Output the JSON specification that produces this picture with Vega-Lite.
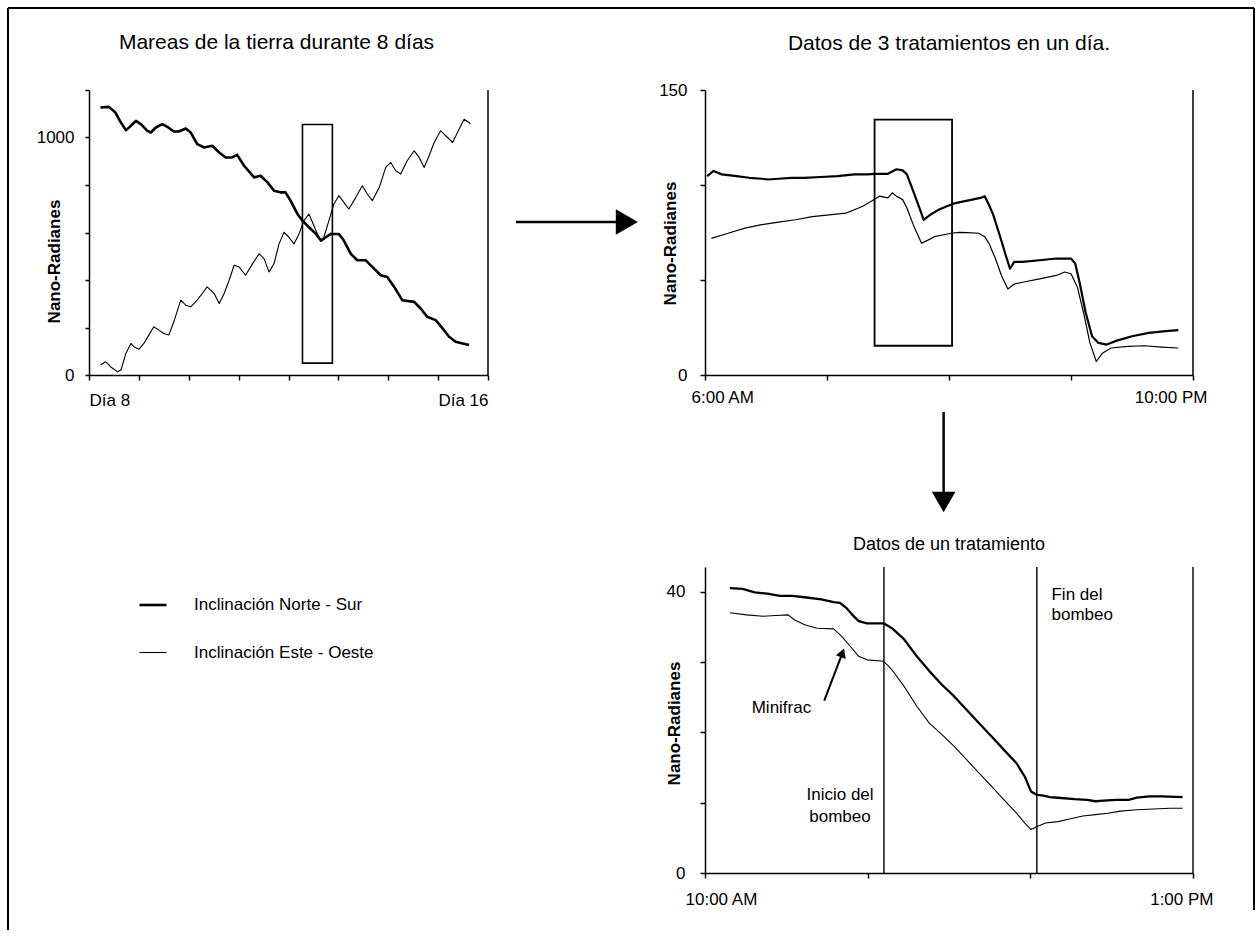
{
  "$schema": "https://vega.github.io/schema/vega-lite/v6.json",
  "background": "white",
  "padding": {"left": 6, "top": 7, "right": 0, "bottom": 0},
  "config": {
    "font": "Liberation Sans",
    "view": {"stroke": null},
    "axis": {"domainColor": "#000", "tickColor": "#000", "labelColor": "#000", "titleColor": "#000", "grid": false, "labelFontSize": 17, "titleFontSize": 17, "titleFontWeight": "bold", "domainWidth": 1.5, "tickWidth": 1.5, "tickSize": 5, "labelPadding": 11},
    "title": {"color": "#000", "fontWeight": "normal", "frame": "group"},
    "text": {"color": "#000"}
  },
  "datasets": {
    "mareas": [
      {"dia": 8.23, "valor": 1126, "serie": "Inclinación Norte - Sur"},
      {"dia": 8.40, "valor": 1129, "serie": "Inclinación Norte - Sur"},
      {"dia": 8.53, "valor": 1105, "serie": "Inclinación Norte - Sur"},
      {"dia": 8.64, "valor": 1063, "serie": "Inclinación Norte - Sur"},
      {"dia": 8.74, "valor": 1031, "serie": "Inclinación Norte - Sur"},
      {"dia": 8.84, "valor": 1049, "serie": "Inclinación Norte - Sur"},
      {"dia": 8.94, "valor": 1070, "serie": "Inclinación Norte - Sur"},
      {"dia": 9.04, "valor": 1056, "serie": "Inclinación Norte - Sur"},
      {"dia": 9.17, "valor": 1028, "serie": "Inclinación Norte - Sur"},
      {"dia": 9.24, "valor": 1021, "serie": "Inclinación Norte - Sur"},
      {"dia": 9.34, "valor": 1042, "serie": "Inclinación Norte - Sur"},
      {"dia": 9.47, "valor": 1056, "serie": "Inclinación Norte - Sur"},
      {"dia": 9.57, "valor": 1045, "serie": "Inclinación Norte - Sur"},
      {"dia": 9.70, "valor": 1025, "serie": "Inclinación Norte - Sur"},
      {"dia": 9.80, "valor": 1025, "serie": "Inclinación Norte - Sur"},
      {"dia": 9.94, "valor": 1038, "serie": "Inclinación Norte - Sur"},
      {"dia": 10.04, "valor": 1021, "serie": "Inclinación Norte - Sur"},
      {"dia": 10.17, "valor": 972, "serie": "Inclinación Norte - Sur"},
      {"dia": 10.31, "valor": 958, "serie": "Inclinación Norte - Sur"},
      {"dia": 10.47, "valor": 965, "serie": "Inclinación Norte - Sur"},
      {"dia": 10.61, "valor": 937, "serie": "Inclinación Norte - Sur"},
      {"dia": 10.74, "valor": 916, "serie": "Inclinación Norte - Sur"},
      {"dia": 10.87, "valor": 916, "serie": "Inclinación Norte - Sur"},
      {"dia": 10.97, "valor": 927, "serie": "Inclinación Norte - Sur"},
      {"dia": 11.11, "valor": 881, "serie": "Inclinación Norte - Sur"},
      {"dia": 11.31, "valor": 832, "serie": "Inclinación Norte - Sur"},
      {"dia": 11.44, "valor": 839, "serie": "Inclinación Norte - Sur"},
      {"dia": 11.58, "valor": 811, "serie": "Inclinación Norte - Sur"},
      {"dia": 11.71, "valor": 776, "serie": "Inclinación Norte - Sur"},
      {"dia": 11.84, "valor": 769, "serie": "Inclinación Norte - Sur"},
      {"dia": 11.94, "valor": 769, "serie": "Inclinación Norte - Sur"},
      {"dia": 12.04, "valor": 734, "serie": "Inclinación Norte - Sur"},
      {"dia": 12.18, "valor": 678, "serie": "Inclinación Norte - Sur"},
      {"dia": 12.28, "valor": 650, "serie": "Inclinación Norte - Sur"},
      {"dia": 12.41, "valor": 622, "serie": "Inclinación Norte - Sur"},
      {"dia": 12.55, "valor": 594, "serie": "Inclinación Norte - Sur"},
      {"dia": 12.65, "valor": 566, "serie": "Inclinación Norte - Sur"},
      {"dia": 12.75, "valor": 580, "serie": "Inclinación Norte - Sur"},
      {"dia": 12.85, "valor": 594, "serie": "Inclinación Norte - Sur"},
      {"dia": 13.01, "valor": 594, "serie": "Inclinación Norte - Sur"},
      {"dia": 13.11, "valor": 566, "serie": "Inclinación Norte - Sur"},
      {"dia": 13.25, "valor": 510, "serie": "Inclinación Norte - Sur"},
      {"dia": 13.38, "valor": 483, "serie": "Inclinación Norte - Sur"},
      {"dia": 13.55, "valor": 483, "serie": "Inclinación Norte - Sur"},
      {"dia": 13.68, "valor": 455, "serie": "Inclinación Norte - Sur"},
      {"dia": 13.85, "valor": 420, "serie": "Inclinación Norte - Sur"},
      {"dia": 13.98, "valor": 413, "serie": "Inclinación Norte - Sur"},
      {"dia": 14.12, "valor": 371, "serie": "Inclinación Norte - Sur"},
      {"dia": 14.28, "valor": 315, "serie": "Inclinación Norte - Sur"},
      {"dia": 14.52, "valor": 308, "serie": "Inclinación Norte - Sur"},
      {"dia": 14.65, "valor": 280, "serie": "Inclinación Norte - Sur"},
      {"dia": 14.78, "valor": 245, "serie": "Inclinación Norte - Sur"},
      {"dia": 14.95, "valor": 231, "serie": "Inclinación Norte - Sur"},
      {"dia": 15.09, "valor": 196, "serie": "Inclinación Norte - Sur"},
      {"dia": 15.22, "valor": 161, "serie": "Inclinación Norte - Sur"},
      {"dia": 15.35, "valor": 140, "serie": "Inclinación Norte - Sur"},
      {"dia": 15.49, "valor": 133, "serie": "Inclinación Norte - Sur"},
      {"dia": 15.62, "valor": 126, "serie": "Inclinación Norte - Sur"},
      {"dia": 8.23, "valor": 42, "serie": "Inclinación Este - Oeste"},
      {"dia": 8.33, "valor": 56, "serie": "Inclinación Este - Oeste"},
      {"dia": 8.43, "valor": 35, "serie": "Inclinación Este - Oeste"},
      {"dia": 8.57, "valor": 14, "serie": "Inclinación Este - Oeste"},
      {"dia": 8.64, "valor": 21, "serie": "Inclinación Este - Oeste"},
      {"dia": 8.74, "valor": 91, "serie": "Inclinación Este - Oeste"},
      {"dia": 8.84, "valor": 133, "serie": "Inclinación Este - Oeste"},
      {"dia": 8.90, "valor": 119, "serie": "Inclinación Este - Oeste"},
      {"dia": 9.00, "valor": 108, "serie": "Inclinación Este - Oeste"},
      {"dia": 9.10, "valor": 133, "serie": "Inclinación Este - Oeste"},
      {"dia": 9.20, "valor": 168, "serie": "Inclinación Este - Oeste"},
      {"dia": 9.30, "valor": 203, "serie": "Inclinación Este - Oeste"},
      {"dia": 9.40, "valor": 189, "serie": "Inclinación Este - Oeste"},
      {"dia": 9.50, "valor": 175, "serie": "Inclinación Este - Oeste"},
      {"dia": 9.60, "valor": 168, "serie": "Inclinación Este - Oeste"},
      {"dia": 9.70, "valor": 224, "serie": "Inclinación Este - Oeste"},
      {"dia": 9.84, "valor": 315, "serie": "Inclinación Este - Oeste"},
      {"dia": 9.94, "valor": 294, "serie": "Inclinación Este - Oeste"},
      {"dia": 10.04, "valor": 287, "serie": "Inclinación Este - Oeste"},
      {"dia": 10.17, "valor": 315, "serie": "Inclinación Este - Oeste"},
      {"dia": 10.27, "valor": 343, "serie": "Inclinación Este - Oeste"},
      {"dia": 10.37, "valor": 371, "serie": "Inclinación Este - Oeste"},
      {"dia": 10.51, "valor": 343, "serie": "Inclinación Este - Oeste"},
      {"dia": 10.61, "valor": 301, "serie": "Inclinación Este - Oeste"},
      {"dia": 10.71, "valor": 343, "serie": "Inclinación Este - Oeste"},
      {"dia": 10.81, "valor": 399, "serie": "Inclinación Este - Oeste"},
      {"dia": 10.91, "valor": 462, "serie": "Inclinación Este - Oeste"},
      {"dia": 11.01, "valor": 455, "serie": "Inclinación Este - Oeste"},
      {"dia": 11.14, "valor": 420, "serie": "Inclinación Este - Oeste"},
      {"dia": 11.28, "valor": 469, "serie": "Inclinación Este - Oeste"},
      {"dia": 11.41, "valor": 510, "serie": "Inclinación Este - Oeste"},
      {"dia": 11.51, "valor": 490, "serie": "Inclinación Este - Oeste"},
      {"dia": 11.61, "valor": 434, "serie": "Inclinación Este - Oeste"},
      {"dia": 11.71, "valor": 469, "serie": "Inclinación Este - Oeste"},
      {"dia": 11.81, "valor": 552, "serie": "Inclinación Este - Oeste"},
      {"dia": 11.91, "valor": 601, "serie": "Inclinación Este - Oeste"},
      {"dia": 12.01, "valor": 580, "serie": "Inclinación Este - Oeste"},
      {"dia": 12.11, "valor": 552, "serie": "Inclinación Este - Oeste"},
      {"dia": 12.21, "valor": 594, "serie": "Inclinación Este - Oeste"},
      {"dia": 12.31, "valor": 650, "serie": "Inclinación Este - Oeste"},
      {"dia": 12.41, "valor": 678, "serie": "Inclinación Este - Oeste"},
      {"dia": 12.48, "valor": 643, "serie": "Inclinación Este - Oeste"},
      {"dia": 12.58, "valor": 594, "serie": "Inclinación Este - Oeste"},
      {"dia": 12.65, "valor": 566, "serie": "Inclinación Este - Oeste"},
      {"dia": 12.71, "valor": 580, "serie": "Inclinación Este - Oeste"},
      {"dia": 12.81, "valor": 650, "serie": "Inclinación Este - Oeste"},
      {"dia": 12.91, "valor": 720, "serie": "Inclinación Este - Oeste"},
      {"dia": 13.01, "valor": 755, "serie": "Inclinación Este - Oeste"},
      {"dia": 13.11, "valor": 727, "serie": "Inclinación Este - Oeste"},
      {"dia": 13.21, "valor": 699, "serie": "Inclinación Este - Oeste"},
      {"dia": 13.35, "valor": 748, "serie": "Inclinación Este - Oeste"},
      {"dia": 13.48, "valor": 797, "serie": "Inclinación Este - Oeste"},
      {"dia": 13.58, "valor": 762, "serie": "Inclinación Este - Oeste"},
      {"dia": 13.68, "valor": 734, "serie": "Inclinación Este - Oeste"},
      {"dia": 13.82, "valor": 790, "serie": "Inclinación Este - Oeste"},
      {"dia": 13.95, "valor": 874, "serie": "Inclinación Este - Oeste"},
      {"dia": 14.05, "valor": 895, "serie": "Inclinación Este - Oeste"},
      {"dia": 14.15, "valor": 860, "serie": "Inclinación Este - Oeste"},
      {"dia": 14.25, "valor": 846, "serie": "Inclinación Este - Oeste"},
      {"dia": 14.38, "valor": 902, "serie": "Inclinación Este - Oeste"},
      {"dia": 14.52, "valor": 944, "serie": "Inclinación Este - Oeste"},
      {"dia": 14.62, "valor": 916, "serie": "Inclinación Este - Oeste"},
      {"dia": 14.72, "valor": 874, "serie": "Inclinación Este - Oeste"},
      {"dia": 14.82, "valor": 923, "serie": "Inclinación Este - Oeste"},
      {"dia": 14.92, "valor": 979, "serie": "Inclinación Este - Oeste"},
      {"dia": 15.05, "valor": 1028, "serie": "Inclinación Este - Oeste"},
      {"dia": 15.19, "valor": 1000, "serie": "Inclinación Este - Oeste"},
      {"dia": 15.29, "valor": 979, "serie": "Inclinación Este - Oeste"},
      {"dia": 15.42, "valor": 1035, "serie": "Inclinación Este - Oeste"},
      {"dia": 15.52, "valor": 1077, "serie": "Inclinación Este - Oeste"},
      {"dia": 15.62, "valor": 1063, "serie": "Inclinación Este - Oeste"},
      {"dia": 15.65, "valor": 1056, "serie": "Inclinación Este - Oeste"}
    ],
    "tratamientos": [
      {"hora": 6.07, "valor": 104.7, "serie": "Inclinación Norte - Sur"},
      {"hora": 6.28, "valor": 107.4, "serie": "Inclinación Norte - Sur"},
      {"hora": 6.55, "valor": 105.6, "serie": "Inclinación Norte - Sur"},
      {"hora": 7.03, "valor": 104.7, "serie": "Inclinación Norte - Sur"},
      {"hora": 7.45, "valor": 103.8, "serie": "Inclinación Norte - Sur"},
      {"hora": 7.86, "valor": 103.3, "serie": "Inclinación Norte - Sur"},
      {"hora": 8.07, "valor": 102.9, "serie": "Inclinación Norte - Sur"},
      {"hora": 8.41, "valor": 103.3, "serie": "Inclinación Norte - Sur"},
      {"hora": 8.83, "valor": 103.8, "serie": "Inclinación Norte - Sur"},
      {"hora": 9.24, "valor": 103.8, "serie": "Inclinación Norte - Sur"},
      {"hora": 9.79, "valor": 104.2, "serie": "Inclinación Norte - Sur"},
      {"hora": 10.34, "valor": 104.7, "serie": "Inclinación Norte - Sur"},
      {"hora": 10.90, "valor": 105.6, "serie": "Inclinación Norte - Sur"},
      {"hora": 11.31, "valor": 105.6, "serie": "Inclinación Norte - Sur"},
      {"hora": 11.59, "valor": 105.9, "serie": "Inclinación Norte - Sur"},
      {"hora": 12.00, "valor": 105.9, "serie": "Inclinación Norte - Sur"},
      {"hora": 12.28, "valor": 108.3, "serie": "Inclinación Norte - Sur"},
      {"hora": 12.48, "valor": 107.7, "serie": "Inclinación Norte - Sur"},
      {"hora": 12.62, "valor": 105.6, "serie": "Inclinación Norte - Sur"},
      {"hora": 12.83, "valor": 96.7, "serie": "Inclinación Norte - Sur"},
      {"hora": 13.03, "valor": 87.9, "serie": "Inclinación Norte - Sur"},
      {"hora": 13.17, "valor": 81.7, "serie": "Inclinación Norte - Sur"},
      {"hora": 13.38, "valor": 84.3, "serie": "Inclinación Norte - Sur"},
      {"hora": 13.66, "valor": 87.0, "serie": "Inclinación Norte - Sur"},
      {"hora": 13.93, "valor": 88.8, "serie": "Inclinación Norte - Sur"},
      {"hora": 14.21, "valor": 90.5, "serie": "Inclinación Norte - Sur"},
      {"hora": 14.48, "valor": 91.4, "serie": "Inclinación Norte - Sur"},
      {"hora": 14.76, "valor": 92.3, "serie": "Inclinación Norte - Sur"},
      {"hora": 15.03, "valor": 93.2, "serie": "Inclinación Norte - Sur"},
      {"hora": 15.17, "valor": 94.1, "serie": "Inclinación Norte - Sur"},
      {"hora": 15.31, "valor": 89.6, "serie": "Inclinación Norte - Sur"},
      {"hora": 15.45, "valor": 84.3, "serie": "Inclinación Norte - Sur"},
      {"hora": 15.66, "valor": 73.7, "serie": "Inclinación Norte - Sur"},
      {"hora": 15.86, "valor": 63.0, "serie": "Inclinación Norte - Sur"},
      {"hora": 16.00, "valor": 55.9, "serie": "Inclinación Norte - Sur"},
      {"hora": 16.14, "valor": 59.5, "serie": "Inclinación Norte - Sur"},
      {"hora": 16.41, "valor": 59.5, "serie": "Inclinación Norte - Sur"},
      {"hora": 16.97, "valor": 60.4, "serie": "Inclinación Norte - Sur"},
      {"hora": 17.52, "valor": 61.3, "serie": "Inclinación Norte - Sur"},
      {"hora": 18.00, "valor": 61.3, "serie": "Inclinación Norte - Sur"},
      {"hora": 18.14, "valor": 58.6, "serie": "Inclinación Norte - Sur"},
      {"hora": 18.28, "valor": 48.8, "serie": "Inclinación Norte - Sur"},
      {"hora": 18.48, "valor": 32.9, "serie": "Inclinación Norte - Sur"},
      {"hora": 18.69, "valor": 20.4, "serie": "Inclinación Norte - Sur"},
      {"hora": 18.90, "valor": 16.9, "serie": "Inclinación Norte - Sur"},
      {"hora": 19.17, "valor": 16.0, "serie": "Inclinación Norte - Sur"},
      {"hora": 19.45, "valor": 17.8, "serie": "Inclinación Norte - Sur"},
      {"hora": 20.00, "valor": 20.4, "serie": "Inclinación Norte - Sur"},
      {"hora": 20.55, "valor": 22.2, "serie": "Inclinación Norte - Sur"},
      {"hora": 21.10, "valor": 23.1, "serie": "Inclinación Norte - Sur"},
      {"hora": 21.52, "valor": 23.6, "serie": "Inclinación Norte - Sur"},
      {"hora": 6.21, "valor": 71.9, "serie": "Inclinación Este - Oeste"},
      {"hora": 6.76, "valor": 74.6, "serie": "Inclinación Este - Oeste"},
      {"hora": 7.31, "valor": 77.3, "serie": "Inclinación Este - Oeste"},
      {"hora": 7.86, "valor": 79.1, "serie": "Inclinación Este - Oeste"},
      {"hora": 8.41, "valor": 80.5, "serie": "Inclinación Este - Oeste"},
      {"hora": 8.97, "valor": 81.7, "serie": "Inclinación Este - Oeste"},
      {"hora": 9.52, "valor": 83.4, "serie": "Inclinación Este - Oeste"},
      {"hora": 10.07, "valor": 84.3, "serie": "Inclinación Este - Oeste"},
      {"hora": 10.62, "valor": 85.2, "serie": "Inclinación Este - Oeste"},
      {"hora": 10.90, "valor": 87.0, "serie": "Inclinación Este - Oeste"},
      {"hora": 11.17, "valor": 88.8, "serie": "Inclinación Este - Oeste"},
      {"hora": 11.45, "valor": 91.4, "serie": "Inclinación Este - Oeste"},
      {"hora": 11.72, "valor": 94.1, "serie": "Inclinación Este - Oeste"},
      {"hora": 12.00, "valor": 93.2, "serie": "Inclinación Este - Oeste"},
      {"hora": 12.14, "valor": 95.9, "serie": "Inclinación Este - Oeste"},
      {"hora": 12.28, "valor": 94.1, "serie": "Inclinación Este - Oeste"},
      {"hora": 12.48, "valor": 92.3, "serie": "Inclinación Este - Oeste"},
      {"hora": 12.62, "valor": 87.9, "serie": "Inclinación Este - Oeste"},
      {"hora": 12.83, "valor": 79.0, "serie": "Inclinación Este - Oeste"},
      {"hora": 13.10, "valor": 69.3, "serie": "Inclinación Este - Oeste"},
      {"hora": 13.31, "valor": 71.0, "serie": "Inclinación Este - Oeste"},
      {"hora": 13.52, "valor": 72.8, "serie": "Inclinación Este - Oeste"},
      {"hora": 13.79, "valor": 73.7, "serie": "Inclinación Este - Oeste"},
      {"hora": 14.07, "valor": 74.6, "serie": "Inclinación Este - Oeste"},
      {"hora": 14.34, "valor": 75.1, "serie": "Inclinación Este - Oeste"},
      {"hora": 14.62, "valor": 74.9, "serie": "Inclinación Este - Oeste"},
      {"hora": 14.97, "valor": 74.6, "serie": "Inclinación Este - Oeste"},
      {"hora": 15.17, "valor": 72.8, "serie": "Inclinación Este - Oeste"},
      {"hora": 15.31, "valor": 69.3, "serie": "Inclinación Este - Oeste"},
      {"hora": 15.52, "valor": 61.3, "serie": "Inclinación Este - Oeste"},
      {"hora": 15.72, "valor": 52.4, "serie": "Inclinación Este - Oeste"},
      {"hora": 15.93, "valor": 45.3, "serie": "Inclinación Este - Oeste"},
      {"hora": 16.14, "valor": 47.9, "serie": "Inclinación Este - Oeste"},
      {"hora": 16.41, "valor": 48.8, "serie": "Inclinación Este - Oeste"},
      {"hora": 16.97, "valor": 50.6, "serie": "Inclinación Este - Oeste"},
      {"hora": 17.52, "valor": 52.4, "serie": "Inclinación Este - Oeste"},
      {"hora": 17.79, "valor": 54.2, "serie": "Inclinación Este - Oeste"},
      {"hora": 18.00, "valor": 53.3, "serie": "Inclinación Este - Oeste"},
      {"hora": 18.21, "valor": 46.2, "serie": "Inclinación Este - Oeste"},
      {"hora": 18.41, "valor": 32.9, "serie": "Inclinación Este - Oeste"},
      {"hora": 18.62, "valor": 16.9, "serie": "Inclinación Este - Oeste"},
      {"hora": 18.83, "valor": 7.1, "serie": "Inclinación Este - Oeste"},
      {"hora": 19.03, "valor": 11.5, "serie": "Inclinación Este - Oeste"},
      {"hora": 19.31, "valor": 14.2, "serie": "Inclinación Este - Oeste"},
      {"hora": 19.86, "valor": 15.1, "serie": "Inclinación Este - Oeste"},
      {"hora": 20.41, "valor": 15.4, "serie": "Inclinación Este - Oeste"},
      {"hora": 20.97, "valor": 14.7, "serie": "Inclinación Este - Oeste"},
      {"hora": 21.52, "valor": 14.2, "serie": "Inclinación Este - Oeste"}
    ],
    "tratamiento": [
      {"hora": 10.153, "valor": 40.5, "serie": "Inclinación Norte - Sur"},
      {"hora": 10.230, "valor": 40.4, "serie": "Inclinación Norte - Sur"},
      {"hora": 10.306, "valor": 39.9, "serie": "Inclinación Norte - Sur"},
      {"hora": 10.383, "valor": 39.7, "serie": "Inclinación Norte - Sur"},
      {"hora": 10.460, "valor": 39.4, "serie": "Inclinación Norte - Sur"},
      {"hora": 10.536, "valor": 39.4, "serie": "Inclinación Norte - Sur"},
      {"hora": 10.613, "valor": 39.2, "serie": "Inclinación Norte - Sur"},
      {"hora": 10.715, "valor": 38.9, "serie": "Inclinación Norte - Sur"},
      {"hora": 10.791, "valor": 38.5, "serie": "Inclinación Norte - Sur"},
      {"hora": 10.830, "valor": 38.4, "serie": "Inclinación Norte - Sur"},
      {"hora": 10.868, "valor": 37.7, "serie": "Inclinación Norte - Sur"},
      {"hora": 10.906, "valor": 36.7, "serie": "Inclinación Norte - Sur"},
      {"hora": 10.945, "valor": 35.8, "serie": "Inclinación Norte - Sur"},
      {"hora": 10.996, "valor": 35.5, "serie": "Inclinación Norte - Sur"},
      {"hora": 11.098, "valor": 35.5, "serie": "Inclinación Norte - Sur"},
      {"hora": 11.149, "valor": 34.8, "serie": "Inclinación Norte - Sur"},
      {"hora": 11.225, "valor": 33.2, "serie": "Inclinación Norte - Sur"},
      {"hora": 11.302, "valor": 30.8, "serie": "Inclinación Norte - Sur"},
      {"hora": 11.379, "valor": 28.7, "serie": "Inclinación Norte - Sur"},
      {"hora": 11.455, "valor": 26.8, "serie": "Inclinación Norte - Sur"},
      {"hora": 11.532, "valor": 25.1, "serie": "Inclinación Norte - Sur"},
      {"hora": 11.608, "valor": 23.2, "serie": "Inclinación Norte - Sur"},
      {"hora": 11.685, "valor": 21.3, "serie": "Inclinación Norte - Sur"},
      {"hora": 11.762, "valor": 19.4, "serie": "Inclinación Norte - Sur"},
      {"hora": 11.838, "valor": 17.5, "serie": "Inclinación Norte - Sur"},
      {"hora": 11.915, "valor": 15.6, "serie": "Inclinación Norte - Sur"},
      {"hora": 11.966, "valor": 13.7, "serie": "Inclinación Norte - Sur"},
      {"hora": 12.004, "valor": 11.6, "serie": "Inclinación Norte - Sur"},
      {"hora": 12.042, "valor": 11.1, "serie": "Inclinación Norte - Sur"},
      {"hora": 12.081, "valor": 11.0, "serie": "Inclinación Norte - Sur"},
      {"hora": 12.119, "valor": 10.8, "serie": "Inclinación Norte - Sur"},
      {"hora": 12.170, "valor": 10.7, "serie": "Inclinación Norte - Sur"},
      {"hora": 12.272, "valor": 10.5, "serie": "Inclinación Norte - Sur"},
      {"hora": 12.349, "valor": 10.4, "serie": "Inclinación Norte - Sur"},
      {"hora": 12.400, "valor": 10.2, "serie": "Inclinación Norte - Sur"},
      {"hora": 12.451, "valor": 10.3, "serie": "Inclinación Norte - Sur"},
      {"hora": 12.527, "valor": 10.4, "serie": "Inclinación Norte - Sur"},
      {"hora": 12.604, "valor": 10.4, "serie": "Inclinación Norte - Sur"},
      {"hora": 12.655, "valor": 10.7, "serie": "Inclinación Norte - Sur"},
      {"hora": 12.732, "valor": 10.9, "serie": "Inclinación Norte - Sur"},
      {"hora": 12.808, "valor": 10.9, "serie": "Inclinación Norte - Sur"},
      {"hora": 12.936, "valor": 10.8, "serie": "Inclinación Norte - Sur"},
      {"hora": 10.153, "valor": 37.0, "serie": "Inclinación Este - Oeste"},
      {"hora": 10.255, "valor": 36.7, "serie": "Inclinación Este - Oeste"},
      {"hora": 10.357, "valor": 36.5, "serie": "Inclinación Este - Oeste"},
      {"hora": 10.434, "valor": 36.6, "serie": "Inclinación Este - Oeste"},
      {"hora": 10.511, "valor": 36.7, "serie": "Inclinación Este - Oeste"},
      {"hora": 10.549, "valor": 36.0, "serie": "Inclinación Este - Oeste"},
      {"hora": 10.613, "valor": 35.3, "serie": "Inclinación Este - Oeste"},
      {"hora": 10.689, "valor": 34.8, "serie": "Inclinación Este - Oeste"},
      {"hora": 10.791, "valor": 34.7, "serie": "Inclinación Este - Oeste"},
      {"hora": 10.842, "valor": 33.6, "serie": "Inclinación Este - Oeste"},
      {"hora": 10.894, "valor": 32.2, "serie": "Inclinación Este - Oeste"},
      {"hora": 10.945, "valor": 30.8, "serie": "Inclinación Este - Oeste"},
      {"hora": 10.996, "valor": 30.3, "serie": "Inclinación Este - Oeste"},
      {"hora": 11.098, "valor": 30.1, "serie": "Inclinación Este - Oeste"},
      {"hora": 11.149, "valor": 28.9, "serie": "Inclinación Este - Oeste"},
      {"hora": 11.225, "valor": 26.5, "serie": "Inclinación Este - Oeste"},
      {"hora": 11.302, "valor": 23.7, "serie": "Inclinación Este - Oeste"},
      {"hora": 11.379, "valor": 21.3, "serie": "Inclinación Este - Oeste"},
      {"hora": 11.455, "valor": 19.7, "serie": "Inclinación Este - Oeste"},
      {"hora": 11.532, "valor": 18.0, "serie": "Inclinación Este - Oeste"},
      {"hora": 11.608, "valor": 16.1, "serie": "Inclinación Este - Oeste"},
      {"hora": 11.685, "valor": 14.2, "serie": "Inclinación Este - Oeste"},
      {"hora": 11.762, "valor": 12.3, "serie": "Inclinación Este - Oeste"},
      {"hora": 11.838, "valor": 10.4, "serie": "Inclinación Este - Oeste"},
      {"hora": 11.915, "valor": 8.5, "serie": "Inclinación Este - Oeste"},
      {"hora": 11.966, "valor": 7.1, "serie": "Inclinación Este - Oeste"},
      {"hora": 12.004, "valor": 6.2, "serie": "Inclinación Este - Oeste"},
      {"hora": 12.042, "valor": 6.6, "serie": "Inclinación Este - Oeste"},
      {"hora": 12.093, "valor": 7.1, "serie": "Inclinación Este - Oeste"},
      {"hora": 12.170, "valor": 7.3, "serie": "Inclinación Este - Oeste"},
      {"hora": 12.247, "valor": 7.7, "serie": "Inclinación Este - Oeste"},
      {"hora": 12.323, "valor": 8.1, "serie": "Inclinación Este - Oeste"},
      {"hora": 12.400, "valor": 8.3, "serie": "Inclinación Este - Oeste"},
      {"hora": 12.476, "valor": 8.5, "serie": "Inclinación Este - Oeste"},
      {"hora": 12.553, "valor": 8.8, "serie": "Inclinación Este - Oeste"},
      {"hora": 12.655, "valor": 9.0, "serie": "Inclinación Este - Oeste"},
      {"hora": 12.757, "valor": 9.1, "serie": "Inclinación Este - Oeste"},
      {"hora": 12.859, "valor": 9.2, "serie": "Inclinación Este - Oeste"},
      {"hora": 12.936, "valor": 9.2, "serie": "Inclinación Este - Oeste"}
    ]
  },
  "columns": 3,
  "bounds": "flush",
  "spacing": {"row": 30, "column": 0},
  "resolve": {"scale": {"strokeWidth": "independent"}, "legend": {"strokeWidth": "independent"}},
  "concat": [
    {
      "width": 399,
      "height": 285,
      "title": {"text": "Mareas de la tierra durante 8 días", "fontSize": 21, "offset": 36, "dx": -12},
      "layer": [
        {
          "data": {"name": "mareas"},
          "mark": {"type": "line", "color": "#000", "strokeJoin": "round"},
          "encoding": {
            "x": {"field": "dia", "type": "quantitative", "scale": {"domain": [8, 16], "nice": false}, "axis": {"title": null, "values": [8, 9, 10, 11, 12, 13, 14, 15, 16], "labelExpr": "datum.value == 8 ? 'Día 8' : (datum.value == 16 ? 'Día 16' : '')", "labelPadding": 12}},
            "y": {"field": "valor", "type": "quantitative", "scale": {"domain": [0, 1200], "nice": false}, "axis": {"title": "Nano-Radianes", "titleX": -26, "titleY": 171, "values": [0, 200, 400, 600, 800, 1000, 1200], "format": "d", "labelExpr": "(datum.value == 0 || datum.value == 1000) ? datum.label : ''", "tickSize": 4}},
            "strokeWidth": {"field": "serie", "type": "nominal", "scale": {"domain": ["Inclinación Norte - Sur", "Inclinación Este - Oeste"], "range": [2.6, 1.1]}, "legend": {"orient": "none", "legendX": 49, "legendY": 500, "title": null, "symbolType": "stroke", "symbolSize": 729, "symbolStrokeColor": "#000", "labelFontSize": 17, "labelColor": "#000", "labelOffset": 26, "rowPadding": 25, "labelLimit": 400}}
          }
        },
        {
          "data": {"values": [{"inicio": 12.28, "fin": 12.88, "bajo": 50, "alto": 1055}]},
          "mark": {"type": "rect", "fillOpacity": 0, "stroke": "#000", "strokeWidth": 1.6},
          "encoding": {
            "x": {"field": "inicio", "type": "quantitative"},
            "x2": {"field": "fin"},
            "y": {"field": "bajo", "type": "quantitative"},
            "y2": {"field": "alto"}
          }
        },
        {
          "data": {"values": [{}]},
          "mark": {"type": "rule", "color": "#000", "strokeWidth": 1.5},
          "encoding": {"x": {"datum": 16, "type": "quantitative"}}
        }
      ]
    },
    {
      "width": 217,
      "height": 285,
      "data": {"values": [{}]},
      "layer": [
        {
          "mark": {"type": "rule", "color": "#000", "strokeWidth": 2.5},
          "encoding": {
            "x": {"datum": 0.129, "type": "quantitative", "scale": {"domain": [0, 1], "nice": false}, "axis": null},
            "x2": {"datum": 0.64},
            "y": {"datum": 0.537, "type": "quantitative", "scale": {"domain": [0, 1], "nice": false}, "axis": null}
          }
        },
        {
          "mark": {"type": "point", "shape": "triangle-right", "filled": true, "color": "#000", "opacity": 1, "size": 650},
          "encoding": {
            "x": {"datum": 0.64, "type": "quantitative"},
            "y": {"datum": 0.537, "type": "quantitative"}
          }
        },
        {
          "mark": {"type": "rule", "color": "#000", "strokeWidth": 2, "clip": false},
          "encoding": {"x": {"datum": -2.212, "type": "quantitative"}, "x2": {"datum": 3.53}, "y": {"datum": 1.2877, "type": "quantitative"}}
        },
        {
          "mark": {"type": "rule", "color": "#000", "strokeWidth": 2, "clip": false},
          "encoding": {"x": {"datum": -2.212, "type": "quantitative"}, "y": {"datum": 1.2877, "type": "quantitative"}, "y2": {"datum": -1.9474}}
        },
        {
          "mark": {"type": "rule", "color": "#000", "strokeWidth": 2, "clip": false},
          "encoding": {"x": {"datum": 3.53, "type": "quantitative"}, "y": {"datum": 1.2877, "type": "quantitative"}, "y2": {"datum": -1.8772}}
        }
      ]
    },
    {
      "width": 488,
      "height": 285,
      "title": {"text": "Datos de 3 tratamientos en un día.", "fontSize": 21, "offset": 27},
      "layer": [
        {
          "data": {"name": "tratamientos"},
          "mark": {"type": "line", "color": "#000", "strokeJoin": "round"},
          "encoding": {
            "x": {"field": "hora", "type": "quantitative", "scale": {"domain": [6, 22], "nice": false}, "axis": {"title": null, "values": [6, 10, 14, 18, 22], "labelExpr": "datum.value == 6 ? '6:00 AM' : (datum.value == 22 ? '10:00 PM' : '')", "labelFlush": true, "labelFlushOffset": 14, "labelPadding": 9}},
            "y": {"field": "valor", "type": "quantitative", "scale": {"domain": [0, 150], "nice": false}, "axis": {"title": "Nano-Radianes", "titleX": -26, "titleY": 153, "values": [0, 50, 100, 150], "labelExpr": "(datum.value == 0 || datum.value == 150) ? datum.label : ''", "labelPadding": 13}},
            "strokeWidth": {"field": "serie", "type": "nominal", "scale": {"domain": ["Inclinación Norte - Sur", "Inclinación Este - Oeste"], "range": [2.2, 1.2]}, "legend": null}
          }
        },
        {
          "data": {"values": [{"inicio": 11.56, "fin": 14.1, "bajo": 15.4, "alto": 134.4}]},
          "mark": {"type": "rect", "fillOpacity": 0, "stroke": "#000", "strokeWidth": 1.8},
          "encoding": {
            "x": {"field": "inicio", "type": "quantitative"},
            "x2": {"field": "fin"},
            "y": {"field": "bajo", "type": "quantitative"},
            "y2": {"field": "alto"}
          }
        },
        {
          "data": {"values": [{}]},
          "mark": {"type": "rule", "color": "#000", "strokeWidth": 1.5},
          "encoding": {"x": {"datum": 22, "type": "quantitative"}}
        }
      ]
    },
    {
      "width": 399,
      "height": 20,
      "data": {"values": [{}]},
      "mark": {"type": "point", "opacity": 0},
      "encoding": {}
    },
    {
      "width": 217,
      "height": 20,
      "data": {"values": [{}]},
      "mark": {"type": "point", "opacity": 0},
      "encoding": {}
    },
    {
      "width": 488,
      "height": 132,
      "data": {"values": [{}]},
      "layer": [
        {
          "mark": {"type": "rule", "color": "#000", "strokeWidth": 2.5},
          "encoding": {
            "x": {"datum": 0.489, "type": "quantitative", "scale": {"domain": [0, 1], "nice": false}, "axis": null},
            "y": {"datum": 0.947, "type": "quantitative", "scale": {"domain": [0, 1], "nice": false}, "axis": null},
            "y2": {"datum": 0.27}
          }
        },
        {
          "mark": {"type": "point", "shape": "triangle-down", "filled": true, "color": "#000", "opacity": 1, "size": 560},
          "encoding": {
            "x": {"datum": 0.489, "type": "quantitative"},
            "y": {"datum": 0.265, "type": "quantitative"}
          }
        }
      ]
    },
    {
      "width": 399,
      "height": 20,
      "data": {"values": [{}]},
      "mark": {"type": "point", "opacity": 0},
      "encoding": {}
    },
    {
      "width": 217,
      "height": 20,
      "data": {"values": [{}]},
      "mark": {"type": "point", "opacity": 0},
      "encoding": {}
    },
    {
      "width": 488,
      "height": 306,
      "title": {"text": "Datos de un tratamiento", "fontSize": 18, "offset": 12},
      "layer": [
        {
          "data": {"name": "tratamiento"},
          "mark": {"type": "line", "color": "#000", "strokeJoin": "round"},
          "encoding": {
            "x": {"field": "hora", "type": "quantitative", "scale": {"domain": [10, 13], "nice": false}, "axis": {"title": null, "values": [10, 11, 12, 13], "labelExpr": "datum.value == 10 ? '10:00 AM' : (datum.value == 13 ? '1:00 PM' : '')", "labelFlush": true, "labelFlushOffset": 20, "labelPadding": 13}},
            "y": {"field": "valor", "type": "quantitative", "scale": {"domain": [0, 43.5], "nice": false}, "axis": {"title": "Nano-Radianes", "titleX": -22, "titleY": 156, "values": [0, 10, 20, 30, 40], "labelExpr": "(datum.value == 0 || datum.value == 40) ? datum.label : ''", "labelPadding": 15}},
            "strokeWidth": {"field": "serie", "type": "nominal", "scale": {"domain": ["Inclinación Norte - Sur", "Inclinación Este - Oeste"], "range": [2.3, 1.1]}, "legend": null}
          }
        },
        {
          "data": {"values": [{"hora": 11.1, "marca": "Inicio del bombeo"}, {"hora": 12.04, "marca": "Fin del bombeo"}, {"hora": 13, "marca": "Borde"}]},
          "mark": {"type": "rule", "color": "#000", "strokeWidth": 1.4},
          "encoding": {"x": {"field": "hora", "type": "quantitative"}}
        },
        {
          "data": {"values": [{"hora": 10.83, "valor": 11.1, "texto": "Inicio del"}, {"hora": 10.83, "valor": 8.0, "texto": "bombeo"}, {"hora": 10.47, "valor": 23.5, "texto": "Minifrac"}]},
          "mark": {"type": "text", "fontSize": 17, "align": "center", "baseline": "middle", "color": "#000"},
          "encoding": {
            "x": {"field": "hora", "type": "quantitative"},
            "y": {"field": "valor", "type": "quantitative"},
            "text": {"field": "texto"}
          }
        },
        {
          "data": {"values": [{"hora": 12.13, "valor": 39.5, "texto": "Fin del"}, {"hora": 12.13, "valor": 36.7, "texto": "bombeo"}]},
          "mark": {"type": "text", "fontSize": 17, "align": "left", "baseline": "middle", "color": "#000"},
          "encoding": {
            "x": {"field": "hora", "type": "quantitative"},
            "y": {"field": "valor", "type": "quantitative"},
            "text": {"field": "texto"}
          }
        },
        {
          "data": {"values": [{"desde": 10.733, "hasta": 10.845, "bajo": 24.5, "alto": 31.3}]},
          "mark": {"type": "rule", "color": "#000", "strokeWidth": 2},
          "encoding": {
            "x": {"field": "desde", "type": "quantitative"},
            "x2": {"field": "hasta"},
            "y": {"field": "bajo", "type": "quantitative"},
            "y2": {"field": "alto"}
          }
        },
        {
          "data": {"values": [{"hora": 10.845, "valor": 31.3}]},
          "mark": {"type": "point", "shape": "triangle-up", "angle": 21, "filled": true, "color": "#000", "opacity": 1, "size": 110},
          "encoding": {
            "x": {"field": "hora", "type": "quantitative"},
            "y": {"field": "valor", "type": "quantitative"}
          }
        }
      ]
    }
  ]
}
